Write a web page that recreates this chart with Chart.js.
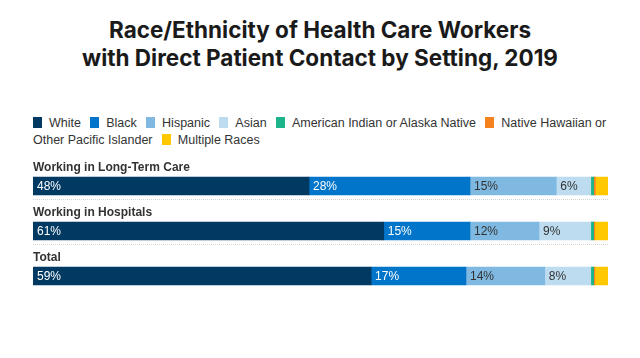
<!DOCTYPE html>
<html>
<head>
<meta charset="utf-8">
<script src="https://cdn.jsdelivr.net/npm/chart.js@4/dist/chart.umd.min.js"></script>
<style>
  body { margin: 0; width: 640px; height: 358px; background: #fff; position: relative; overflow: hidden; }
  #title { position: absolute; left: 0; top: 16px; width: 640px; text-align: center;
    font-family: Inter, "Noto Sans", sans-serif; font-weight: 700; font-size: 22.5px; line-height: 28px; color: #1a1a1a; }
  #legend { position: absolute; left: 33px; top: 115px; width: 580px;
    font-family: "Liberation Sans", Arial, sans-serif; font-size: 12.5px; line-height: 17px; color: #333; }
  #legend .item { margin-right: 5.8px; }
  #legend .nw { white-space: nowrap; }
  #legend .sw { display: inline-block; width: 9px; height: 11px; margin-right: 7px; vertical-align: -1px; }
  #wrap { position: absolute; left: 0; top: 150px; width: 640px; height: 160px; }
</style>
</head>
<body>
<div id="title">Race/Ethnicity of Health Care Workers<br>with Direct Patient Contact by Setting, 2019</div>
<div id="legend"></div>
<div id="wrap"><canvas id="chart"></canvas></div>
<script>
var settings = ['Working in Long-Term Care', 'Working in Hospitals', 'Total'];
var groups = ['White', 'Black', 'Hispanic', 'Asian', 'American Indian or Alaska Native',
  'Native Hawaiian or Other Pacific Islander', 'Multiple Races'];
var colors = ['#003a63', '#0075c9', '#7fb9e1', '#bddcf0', '#1cb489', '#f5821f', '#ffc800'];
var labelColors = ['#fff', '#fff', '#333', '#333', '#333', '#333', '#333'];

// percent per group, order = settings
var white = [48, 61, 58.8];
var black = [28, 15, 16.5];
var hispanic = [15, 12, 13.7];
var asian = [6, 9, 8];
var aian = [0.5, 0.5, 0.5];
var nhpi = [0.3, 0.2, 0.2];
var multiple = [2.2, 2.3, 2.3];

var values = [white, black, hispanic, asian, aian, nhpi, multiple];

var datasets = [];
for (var i = 0; i < groups.length; i++) {
  datasets.push({
    label: groups[i],
    data: values[i],
    backgroundColor: colors[i],
    borderWidth: 0,
    barThickness: 18
  });
}

// html legend, so the long label can wrap like the original
var leg = document.getElementById('legend');
var html = '';
for (var i = 0; i < groups.length; i++) {
  var words = groups[i].split(' ');
  var first = words.shift();
  html += '<span class="item"><span class="nw"><span class="sw" style="background:' + colors[i] + '"></span>' +
    first + '</span>' + (words.length ? ' ' + words.join(' ') : '') + '</span> ';
}
leg.innerHTML = html;

var barText = {
  id: 'barText',
  afterDatasetsDraw: function(chart) {
    var ctx = chart.ctx;
    var area = chart.chartArea;
    ctx.save();
    // values inside the bars
    ctx.font = '12px "Liberation Sans", Arial, sans-serif';
    ctx.textBaseline = 'middle';
    ctx.textAlign = 'left';
    for (var d = 0; d < chart.data.datasets.length; d++) {
      var meta = chart.getDatasetMeta(d);
      meta.data.forEach(function(bar, j) {
        var v = chart.data.datasets[d].data[j];
        if (v < 5) return;
        var p = bar.getProps(['x', 'y', 'base']);
        ctx.fillStyle = labelColors[d];
        ctx.fillText(Math.round(v) + '%', p.base + 4, p.y + 1);
      });
    }
    // setting names above bars and dotted separators
    var yScale = chart.scales.y;
    ctx.font = 'bold 12px "Liberation Sans", Arial, sans-serif';
    ctx.textBaseline = 'alphabetic';
    for (var k = 0; k < settings.length; k++) {
      var cy = yScale.getPixelForValue(k);
      ctx.fillStyle = '#333';
      ctx.fillText(settings[k], area.left, cy - 9 - 6);
      if (k < settings.length - 1) {
        ctx.strokeStyle = '#d4d4d4';
        ctx.lineWidth = 1;
        ctx.setLineDash([1, 1]);
        ctx.beginPath();
        ctx.moveTo(area.left, Math.round(cy + 13) + 0.5);
        ctx.lineTo(area.right, Math.round(cy + 13) + 0.5);
        ctx.stroke();
      }
    }
    ctx.restore();
  }
};

var chart = new Chart(document.getElementById('chart'), {
  type: 'bar',
  data: { labels: settings, datasets: datasets },
  options: {
    indexAxis: 'y',
    responsive: true,
    maintainAspectRatio: false,
    animation: false,
    layout: { padding: { left: 33, right: 32, top: 13.5, bottom: 11.5 } },
    scales: {
      x: { stacked: true, min: 0, max: 100, display: false },
      y: { stacked: true, display: false }
    },
    plugins: {
      legend: { display: false },
      tooltip: { enabled: false }
    }
  },
  plugins: [barText]
});
</script>
</body>
</html>
